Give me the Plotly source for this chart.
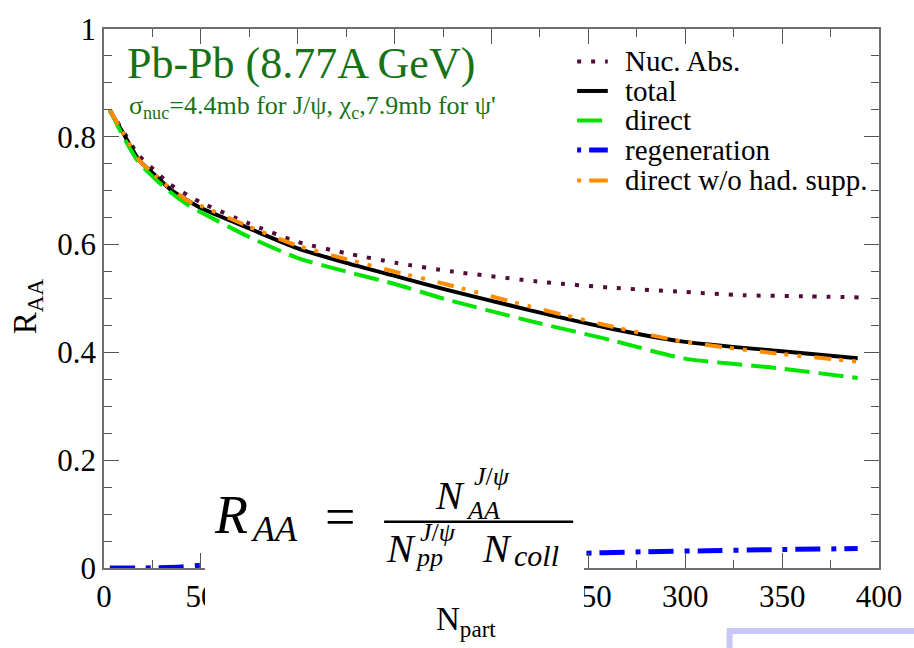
import plotly.graph_objects as go

# ---- data: R_AA versus N_part for Pb-Pb at 8.77A GeV ----
npart_main = [3, 10, 18, 27, 34, 44, 50, 75, 100, 125, 151, 176, 219, 262, 299, 347, 389]
raa_total = [0.849, 0.806, 0.757, 0.727, 0.703, 0.680, 0.668, 0.630, 0.593, 0.566,
             0.541, 0.517, 0.479, 0.444, 0.420, 0.403, 0.389]
raa_direct = [0.850, 0.800, 0.752, 0.720, 0.698, 0.672, 0.660, 0.614, 0.575, 0.550,
              0.526, 0.499, 0.459, 0.4225, 0.389, 0.371, 0.3525]
raa_nohad = [0.850, 0.806, 0.757, 0.727, 0.705, 0.680, 0.672, 0.633, 0.598, 0.573,
             0.549, 0.527, 0.486, 0.448, 0.420, 0.398, 0.383]

npart_nuc = [3, 10, 18, 27, 34, 44, 50, 75, 100, 125, 151, 180, 228, 262, 296, 330, 364, 390]
raa_nuc = [0.850, 0.810, 0.765, 0.735, 0.712, 0.690, 0.678, 0.639, 0.605, 0.584,
           0.566, 0.550, 0.530, 0.520, 0.513, 0.506, 0.504, 0.502]

npart_regen = [3, 20, 40, 50, 243, 277, 311, 345, 389]
raa_regen = [0.0, 0.0, 0.002, 0.005, 0.027, 0.030, 0.032, 0.034, 0.036]

x_ticks = [0, 50, 100, 150, 200, 250, 300, 350, 400]
x_ticklabels = ["0", "50", "100", "150", "200", "250", "300", "350", "400"]
y_ticks = [0, 0.2, 0.4, 0.6, 0.8, 1.0]
y_ticklabels = ["0", "0.2", "0.4", "0.6", "0.8", "1"]

# ---- page geometry (pixels) ----
W, H = 914, 648
L, R, T, B = 104, 887, 20, 568
SERIF = "Liberation Serif"


def px(x):
    return (x - L) / (R - L)


def py(y):
    return (B - y) / (B - T)


series = [
    dict(name="Nuc. Abs.", x=npart_nuc, y=raa_nuc, color="#520c3a", width=4, dash="4px,10px"),
    dict(name="total", x=npart_main, y=raa_total, color="#000000", width=4, dash="solid"),
    dict(name="direct", x=npart_main, y=raa_direct, color="#00e400", width=4, dash="25px,9px"),
    dict(name="regeneration", x=npart_regen, y=raa_regen, color="#0000ff", width=5,
         dash="25px,11px,5px,8px"),
    dict(name="direct w/o had. supp.", x=npart_main, y=raa_nohad, color="#ff8c00", width=4,
         dash="17px,8px,4px,9px,4px,13px"),
]

fig = go.Figure()
for s in series:
    fig.add_trace(go.Scatter(
        x=s["x"], y=s["y"], mode="lines", name=s["name"],
        line=dict(color=s["color"], width=s["width"], dash=s["dash"], shape="spline",
                  smoothing=0.6),
        showlegend=False, hoverinfo="skip",
    ))

shapes = []
annotations = []

# legend drawn by hand: short line sample + label
legend_y = [53, 83, 113, 143, 174]
legend_dash = ["4px,10px", "solid", "25px,9px", "4px,8px,19px", "4px,8px,19px"]
for s, ly, d in zip(series, legend_y, legend_dash):
    shapes.append(dict(type="line", xref="paper", yref="paper",
                       x0=px(582), x1=px(613), y0=py(ly), y1=py(ly),
                       line=dict(color=s["color"], width=s["width"], dash=d)))
    annotations.append(dict(text=s["name"], xref="paper", yref="paper",
                            x=px(628), y=py(ly), xanchor="left", yanchor="middle",
                            showarrow=False, font=dict(family=SERIF, size=29, color="black")))

# title and cross-section note
GREEN = "#177217"
annotations.append(dict(text="Pb-Pb (8.77A GeV)", xref="paper", yref="paper",
                        x=px(125), y=py(55), xanchor="left", yanchor="middle",
                        showarrow=False, font=dict(family=SERIF, size=44, color=GREEN)))
annotations.append(dict(text="σ<sub>nuc</sub>=4.4mb for J/ψ, χ<sub>c</sub>,7.9mb for ψ'",
                        xref="paper", yref="paper",
                        x=px(127), y=py(99), xanchor="left", yanchor="middle",
                        showarrow=False, font=dict(family=SERIF, size=26, color=GREEN)))

# axis titles
annotations.append(dict(text="R<sub>AA</sub>", xref="paper", yref="paper",
                        x=px(27), y=py(302), textangle=-90, xanchor="center", yanchor="middle",
                        showarrow=False, font=dict(family=SERIF, size=33, color="black")))
annotations.append(dict(text="N<sub>part</sub>", xref="paper", yref="paper",
                        x=px(470), y=py(622), xanchor="center", yanchor="middle",
                        showarrow=False, font=dict(family=SERIF, size=33, color="black")))

# white panel holding the R_AA definition
shapes.append(dict(type="rect", xref="paper", yref="paper", layer="above",
                   x0=px(206), x1=px(589), y0=py(614), y1=py(462),
                   fillcolor="white", line=dict(width=0)))
shapes.append(dict(type="line", xref="paper", yref="paper", layer="above",
                   x0=px(387), x1=px(578), y0=py(521), y1=py(521),
                   line=dict(color="black", width=2.5)))


def math(text, x, y, size):
    annotations.append(dict(text=text, xref="paper", yref="paper", x=px(x), y=py(y),
                            xanchor="left", yanchor="middle", showarrow=False,
                            font=dict(family=SERIF, size=size, color="black")))


math("<i>R</i>", 213, 514, 54)
math("<i>AA</i>", 250, 528, 36)
math("=", 325, 516, 54)
# numerator
math("<i>N</i>", 436, 494, 40)
math("<i>J</i>/<i>ψ</i>", 476, 475, 26)
math("<i>AA</i>", 468, 510, 26)
# denominator
math("<i>N</i>", 387, 548, 40)
math("<i>J</i>/<i>ψ</i>", 421, 532, 26)
math("<i>pp</i>", 416, 557, 26)
math("<i>N</i>", 484, 548, 40)
math("<i>coll</i>", 516, 555, 30)

# lavender frame in the lower right corner
shapes.append(dict(type="rect", xref="paper", yref="paper", layer="above",
                   x0=px(736), x1=px(990), y0=py(720), y1=py(632),
                   fillcolor="rgba(0,0,0,0)", line=dict(color="#c8c8f6", width=6)))

axis_common = dict(
    showline=True, linecolor="#6e6e6e", linewidth=1.5, mirror="ticks",
    ticks="inside", ticklen=15, tickwidth=1.3, tickcolor="#555555",
    showgrid=False, zeroline=False,
    tickfont=dict(family=SERIF, size=31, color="black"),
)

fig.update_xaxes(range=[0, 400], tickmode="array", tickvals=x_ticks, ticktext=x_ticklabels,
                 minor=dict(tickmode="linear", tick0=0, dtick=25, ticks="inside", ticklen=8,
                            tickwidth=1.3, tickcolor="#555555", showgrid=False),
                 ticklabelstandoff=0, **axis_common)
fig.update_yaxes(range=[0, 1], tickmode="array", tickvals=y_ticks, ticktext=y_ticklabels,
                 minor=dict(tickmode="linear", tick0=0, dtick=0.05, ticks="inside", ticklen=8,
                            tickwidth=1.3, tickcolor="#555555", showgrid=False),
                 ticklabelstandoff=0, **axis_common)

fig.update_layout(
    width=W, height=H, autosize=False,
    margin=dict(l=L, r=W - R, t=T, b=H - B, pad=0),
    paper_bgcolor="white", plot_bgcolor="white",
    showlegend=False, shapes=shapes, annotations=annotations,
    font=dict(family=SERIF, color="black"),
)

fig.write_html("out.html")
